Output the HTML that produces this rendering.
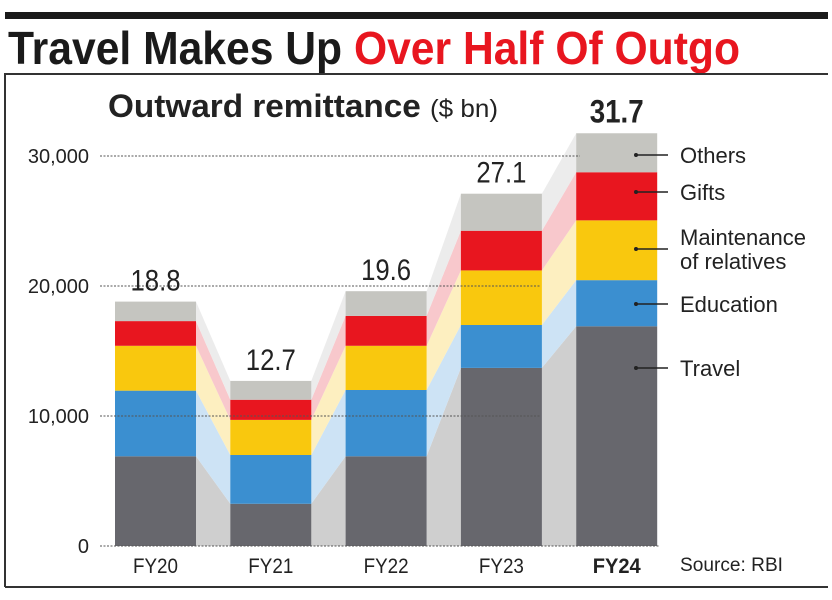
<!DOCTYPE html>
<html><head><meta charset="utf-8">
<style>
body{margin:0;background:#fff;width:832px;height:600px;overflow:hidden;font-family:"Liberation Sans",sans-serif}
svg{display:block}
</style></head><body>
<svg id="chart" width="832" height="600" viewBox="0 0 832 600">
<rect x="5" y="12" width="823" height="7" fill="#1a1a1a"/>
<text x="8" y="64" font-weight="bold" font-size="46" fill="#1a1a1a" textLength="732" lengthAdjust="spacingAndGlyphs">Travel Makes Up <tspan fill="#e8161f">Over Half Of Outgo</tspan></text>
<path d="M5,587 V74 H828" fill="none" stroke="#333" stroke-width="2"/>
<line x1="5" y1="587" x2="828" y2="587" stroke="#333" stroke-width="2"/>
<text x="108" y="117" font-weight="bold" font-size="32" fill="#222" textLength="390" lengthAdjust="spacingAndGlyphs">Outward remittance <tspan font-weight="normal" font-size="25">($ bn)</tspan></text>
<g id="bands"></g><g id="bars"></g><g id="grid"></g><g id="labels"></g>
<text x="680" y="571" font-size="19" fill="#222" textLength="103" lengthAdjust="spacingAndGlyphs">Source: RBI</text>
</svg>
<script>
const categories=["FY20","FY21","FY22","FY23","FY24"];
const totals=["18.8","12.7","19.6","27.1","31.7"];
const travel=[6900,3250,6900,13700,16900];
const education=[5050,3750,5100,3300,3550];
const maintenance=[3450,2700,3400,4200,4600];
const gifts=[1900,1550,2300,3050,3700];
const others=[1500,1450,1900,2850,3000];
const seriesNames=["Travel","Education","Maintenance","Gifts","Others"];
const legendLabels=[["Travel"],["Education"],["Maintenance","of relatives"],["Gifts"],["Others"]];
const yTicks=[0,10000,20000,30000];
const colors=["#67676d","#3b8fd0","#f9c80e","#e8161f","#c5c5c0"];
const bandColors=["#cfcfcf","#cde3f5","#fdefc0","#f8c8cc","#ececec"];
const legendY=[368,304,249,192,155];
const svg=document.getElementById('chart');const NS="http://www.w3.org/2000/svg";
const y=v=>546-v*0.013;
const x0=i=>115+i*115.3, bw=81;
function mk(t,a,p){const e=document.createElementNS(NS,t);for(const k in a)e.setAttribute(k,a[k]);p.appendChild(e);return e;}
const series=[travel,education,maintenance,gifts,others];
const stacks=categories.map((c,i)=>{let s=0;return series.map(ser=>{const b=s;s+=ser[i];return [b,s];});});
const gB=document.getElementById('bands'),gR=document.getElementById('bars'),gG=document.getElementById('grid'),gL=document.getElementById('labels');
for(let i=0;i<categories.length-1;i++){for(let k=0;k<5;k++){const a=stacks[i][k],b=stacks[i+1][k];
const p=mk('polygon',{points:`${x0(i)+bw},${y(a[1])} ${x0(i+1)},${y(b[1])} ${x0(i+1)},${y(b[0])} ${x0(i)+bw},${y(a[0])}`,fill:bandColors[k]},gB);

}}
categories.forEach((c,i)=>{stacks[i].forEach((s,k)=>{const r=mk('rect',{x:x0(i),y:y(s[1]),width:bw,height:y(s[0])-y(s[1]),fill:colors[k]},gR);

});
const t=mk('text',{x:x0(i)+bw/2,y:y(stacks[i][4][1])-11,'text-anchor':'middle','font-size':i==4?32:30,'font-weight':i==4?'bold':'normal',textLength:i==4?54:50,lengthAdjust:'spacingAndGlyphs',fill:'#222'},gL);t.textContent=totals[i];


const xl=mk('text',{x:x0(i)+bw/2,y:573,'text-anchor':'middle','font-size':21,'font-weight':i==4?'bold':'normal',textLength:i==4?48:45,lengthAdjust:'spacingAndGlyphs',fill:'#222'},gL);xl.textContent=c;

});
yTicks.forEach(v=>{const l=mk('line',{x1:100,x2:v==0?660:(v==30000?580:540),y1:y(v),y2:y(v),stroke:'#555','stroke-width':1,'stroke-dasharray':'2,1.5'},gG);


const t=mk('text',{x:89,y:y(v)+7,'text-anchor':'end','font-size':20,fill:'#222'},gL);t.textContent=v.toLocaleString('en-US');

});
legendLabels.forEach((lab,k)=>{const ym=legendY[k];
const ln=mk('line',{x1:636,x2:668,y1:ym,y2:ym,stroke:'#222','stroke-width':1.5},gL);


mk('circle',{cx:636,cy:ym,r:2,fill:'#222'},gL);
lab.forEach((s2,j)=>{const t=mk('text',{x:680,y:ym+8+(j-(lab.length-1)/2)*24,'font-size':22,fill:'#222'},gL);t.textContent=s2;

});});
</script>
</body></html>
